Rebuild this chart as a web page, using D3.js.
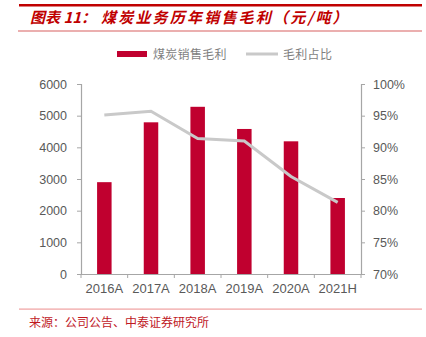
<!DOCTYPE html>
<html><head><meta charset="utf-8">
<script src="https://cdn.jsdelivr.net/npm/d3@7"></script>
<style>
html,body{margin:0;padding:0;background:#fff;}
svg{display:block;}
</style></head>
<body>
<svg id="chart" width="426" height="337"></svg>
<script>
const categories = ["2016A","2017A","2018A","2019A","2020A","2021H"];
const grossProfit = [2900, 4790, 5280, 4580, 4190, 2400];   // 煤炭销售毛利 (元/吨)
const marginPct = [95.1, 95.7, 91.4, 91.0, 85.4, 81.3];      // 毛利占比 (%)
const leftTicks = [0,1000,2000,3000,4000,5000,6000];
const rightTicks = [70,75,80,85,90,95,100];
const titleA = "图表 11：";
const titleB = "煤炭业务历年销售毛利（元/吨）";
const legendLabels = ["煤炭销售毛利","毛利占比"];
const sourceText = "来源：公司公告、中泰证券研究所";

const svg = d3.select("#chart");
const RED = "#C00000", BAR = "#C0002F", LINE = "#C9C9C9", AX = "#A6A6A6", TXT = "#595959";
const CJK = "'Noto Sans CJK SC', sans-serif";
const LAT = "'Liberation Sans', Arial, sans-serif";

// header rules
svg.append("rect").attr("x",19).attr("y",4).attr("width",403).attr("height",2.5).attr("fill",RED);
svg.append("rect").attr("x",18).attr("y",30.5).attr("width",404).attr("height",1).attr("fill","#D86060");

// title
const t = svg.append("text").attr("y",23).attr("fill",RED)
  .attr("font-family",CJK).attr("font-size",15).attr("font-weight","bold").attr("font-style","italic");
t.append("tspan").attr("x",30).text(titleA);
t.append("tspan").attr("x",101).attr("letter-spacing",2.2).text(titleB);

const x = d3.scaleBand().domain(categories).range([81,361]).paddingInner(0).paddingOuter(0);
const yL = d3.scaleLinear().domain([0,6000]).range([274,84]);
const yR = d3.scaleLinear().domain([70,100]).range([274,84]);

const barW = 14.5;
svg.append("g").selectAll("rect").data(categories).join("rect")
  .attr("x",(d)=>x(d)+x.bandwidth()/2-barW/2)
  .attr("y",(d,i)=>yL(grossProfit[i]))
  .attr("width",barW)
  .attr("height",(d,i)=>yL(0)-yL(grossProfit[i]))
  .attr("fill",BAR);

const line = d3.line().x((d,i)=>x(categories[i])+x.bandwidth()/2).y(d=>yR(d));
svg.append("path").datum(marginPct).attr("d",line).attr("fill","none")
  .attr("stroke",LINE).attr("stroke-width",3).attr("stroke-linejoin","miter");

// axes
const gL = svg.append("g").attr("transform","translate(81,0)")
  .call(d3.axisLeft(yL).tickValues(leftTicks).tickFormat(d3.format("d")).tickSize(4).tickPadding(10));
const gR = svg.append("g").attr("transform","translate(361,0)")
  .call(d3.axisRight(yR).tickValues(rightTicks).tickFormat(d=>d+"%").tickSize(4).tickPadding(8));
const gB = svg.append("g").attr("transform","translate(0,274)")
  .call(d3.axisBottom(x).tickSize(0).tickPadding(10));
// category boundary ticks
svg.append("g").selectAll("line").data(d3.range(categories.length+1)).join("line")
  .attr("x1",i=>81+i*x.bandwidth()).attr("x2",i=>81+i*x.bandwidth())
  .attr("y1",274).attr("y2",278).attr("stroke",AX);

[gL,gR,gB].forEach(g=>{
  g.selectAll(".domain").attr("stroke",AX).attr("stroke-width",1.2);
  g.selectAll(".tick line").attr("stroke",AX);
  g.selectAll("text").attr("fill",TXT).attr("font-family",LAT).attr("font-size",12.5);
});
gB.selectAll("text").attr("font-size",13);

// legend
const lg = svg.append("g").attr("font-family",CJK).attr("font-size",12).attr("fill","#7F7F7F");
lg.append("rect").attr("x",117).attr("y",51).attr("width",30).attr("height",6).attr("fill",BAR);
lg.append("text").attr("x",153).attr("y",58.5).attr("letter-spacing",0.3).text(legendLabels[0]);
lg.append("line").attr("x1",246).attr("x2",278).attr("y1",54).attr("y2",54).attr("stroke",LINE).attr("stroke-width",3);
lg.append("text").attr("x",283).attr("y",58.5).attr("letter-spacing",0.3).text(legendLabels[1]);

// footer
svg.append("rect").attr("x",19).attr("y",308.5).attr("width",403).attr("height",1.2).attr("fill","#F0A0A0");
svg.append("text").attr("x",29).attr("y",327).attr("fill","#C0181F")
  .attr("font-family",CJK).attr("font-size",12).text(sourceText);
</script>
</body></html>
